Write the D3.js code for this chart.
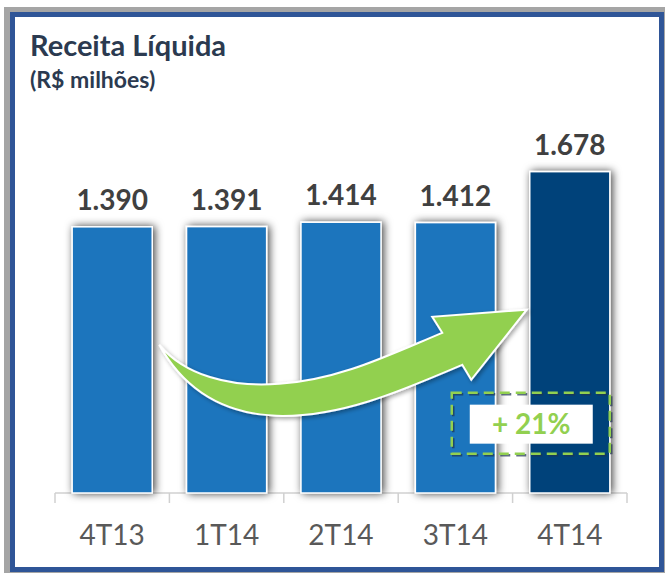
<!DOCTYPE html>
<html>
<head>
<meta charset="utf-8">
<script src="https://cdn.jsdelivr.net/npm/d3@7"></script>
<style>
  body { margin: 0; background: #fff; }
  svg { display: block; }
</style>
</head>
<body>
<svg id="chart" width="665" height="573"></svg>
<script>
var categories = ["4T13", "1T14", "2T14", "3T14", "4T14"];
var values = [1390, 1391, 1414, 1412, 1678];
var labels = ["1.390", "1.391", "1.414", "1.412", "1.678"];
var growthLabel = "+ 21%";

var svg = d3.select("#chart"),
  width = 665,
  height = 573;

var defs = svg.append("defs");
var f = defs.append("filter").attr("id", "shadow")
  .attr("x", "-30%").attr("y", "-30%").attr("width", "160%").attr("height", "160%");
f.append("feDropShadow").attr("dx", 2).attr("dy", 0).attr("stdDeviation", 4.5)
  .attr("flood-color", "#000").attr("flood-opacity", 0.75);
var f2 = defs.append("filter").attr("id", "ashadow")
  .attr("x", "-20%").attr("y", "-20%").attr("width", "140%").attr("height", "140%");
f2.append("feDropShadow").attr("dx", 2).attr("dy", 2).attr("stdDeviation", 2)
  .attr("flood-color", "#000").attr("flood-opacity", 0.35);

// frame
svg.append("rect").attr("x", 4).attr("y", 7).attr("width", 661).attr("height", 566)
  .attr("fill", "#a5a5a5");
svg.append("rect").attr("x", 12.5).attr("y", 14.5).attr("width", 649).attr("height", 555)
  .attr("fill", "#fff").attr("stroke", "#2f5597").attr("stroke-width", 5);

// title
svg.append("text").attr("x", 30).attr("y", 56)
  .attr("font-family", "Lato").attr("font-weight", "bold").attr("font-size", 29)
  .attr("fill", "#2b3a50").text("Receita Líquida");
svg.append("text").attr("x", 30).attr("y", 88)
  .attr("font-family", "Lato").attr("font-weight", "bold").attr("font-size", 23)
  .attr("fill", "#2b3a50").text("(R$ milhões)");

var x = d3.scaleBand()
  .domain(categories)
  .range([55, 627])
  .paddingInner(0.3)
  .paddingOuter(0.15);

var y = d3.scaleLinear()
  .domain([0, 2000])
  .range([493, 110]);

var g = svg.append("g");

// axis line and boundary ticks
var half = x.step() * x.paddingInner() / 2;
g.append("line")
  .attr("x1", x.range()[0]).attr("x2", x.range()[1])
  .attr("y1", y(0)).attr("y2", y(0))
  .attr("stroke", "#d0d0d0").attr("stroke-width", 1.5);
var bounds = categories.map(function(c) { return x(c) - half; });
bounds.push(x.range()[1]);
g.selectAll(".tick").data(bounds).enter().append("line")
  .attr("x1", function(d) { return d; }).attr("x2", function(d) { return d; })
  .attr("y1", y(0)).attr("y2", y(0) + 10)
  .attr("stroke", "#d0d0d0").attr("stroke-width", 1.5);

// bars
g.selectAll(".bar").data(values).enter().append("rect")
  .attr("x", function(d, i) { return x(categories[i]); })
  .attr("y", function(d) { return y(d); })
  .attr("width", x.bandwidth())
  .attr("height", function(d) { return y(0) - y(d); })
  .attr("fill", function(d, i) { return i == values.length - 1 ? "#00427a" : "#1f75bd"; })
  .attr("stroke", "#fff").attr("stroke-width", 1.5)
  .attr("filter", "url(#shadow)");

// value labels
g.selectAll(".val").data(values).enter().append("text")
  .attr("x", function(d, i) { return x(categories[i]) + x.bandwidth() / 2; })
  .attr("y", function(d) { return y(d) - 17; })
  .attr("text-anchor", "middle")
  .attr("font-family", "Lato").attr("font-weight", "bold").attr("font-size", 28)
  .attr("fill", "#404040")
  .text(function(d, i) { return labels[i]; });

// category labels
g.selectAll(".cat").data(categories).enter().append("text")
  .attr("x", function(d) { return x(d) + x.bandwidth() / 2; })
  .attr("y", 545)
  .attr("text-anchor", "middle")
  .attr("font-family", "Lato").attr("font-size", 28)
  .attr("fill", "#595959")
  .text(function(d) { return d; });

// growth arrow, anchored to first bar and last bar
var ax = x(categories[0]) + x.bandwidth(), ay = y(values[0]);
var tx = x(categories[4]), ty = y(values[4]);
var p = d3.path();
p.moveTo(ax + 7, ay + 118);
p.bezierCurveTo(ax + 32, ay + 148, ax + 77, ay + 161, ax + 127, ay + 157);
p.bezierCurveTo(ax + 187, ay + 153, ax + 237, ay + 128, ax + 290, ay + 106);
p.lineTo(ax + 280, ay + 90);
p.lineTo(tx - 3, ty + 138);
p.lineTo(ax + 319, ay + 153);
p.lineTo(ax + 310, ay + 138);
p.bezierCurveTo(ax + 247, ay + 165, ax + 187, ay + 191, ax + 124, ay + 189);
p.bezierCurveTo(ax + 72, ay + 187, ax + 32, ay + 163, ax + 7, ay + 118);
p.closePath();
g.append("path").attr("d", p.toString())
  .attr("fill", "#92d050").attr("stroke", "#fff").attr("stroke-width", 2)
  .attr("filter", "url(#ashadow)");

// growth box
var bx = tx - 78, by = y(values[4]) + 221;
g.append("rect").attr("x", bx + 1.5).attr("y", by + 1.5).attr("width", 158).attr("height", 61)
  .attr("fill", "none").attr("stroke", "#1f3550").attr("stroke-width", 2.5)
  .attr("stroke-dasharray", "10,6").attr("opacity", 0.7);
g.append("rect").attr("x", bx).attr("y", by).attr("width", 158).attr("height", 61)
  .attr("fill", "none").attr("stroke", "#92d050").attr("stroke-width", 2.5)
  .attr("stroke-dasharray", "10,6");
g.append("rect").attr("x", bx + 18).attr("y", by + 12).attr("width", 123).attr("height", 39)
  .attr("fill", "#fff");
g.append("text").attr("x", bx + 79.5).attr("y", by + 41)
  .attr("text-anchor", "middle")
  .attr("font-family", "Lato").attr("font-weight", "bold").attr("font-size", 28)
  .attr("fill", "#92d050").text(growthLabel);
</script>
</body>
</html>
